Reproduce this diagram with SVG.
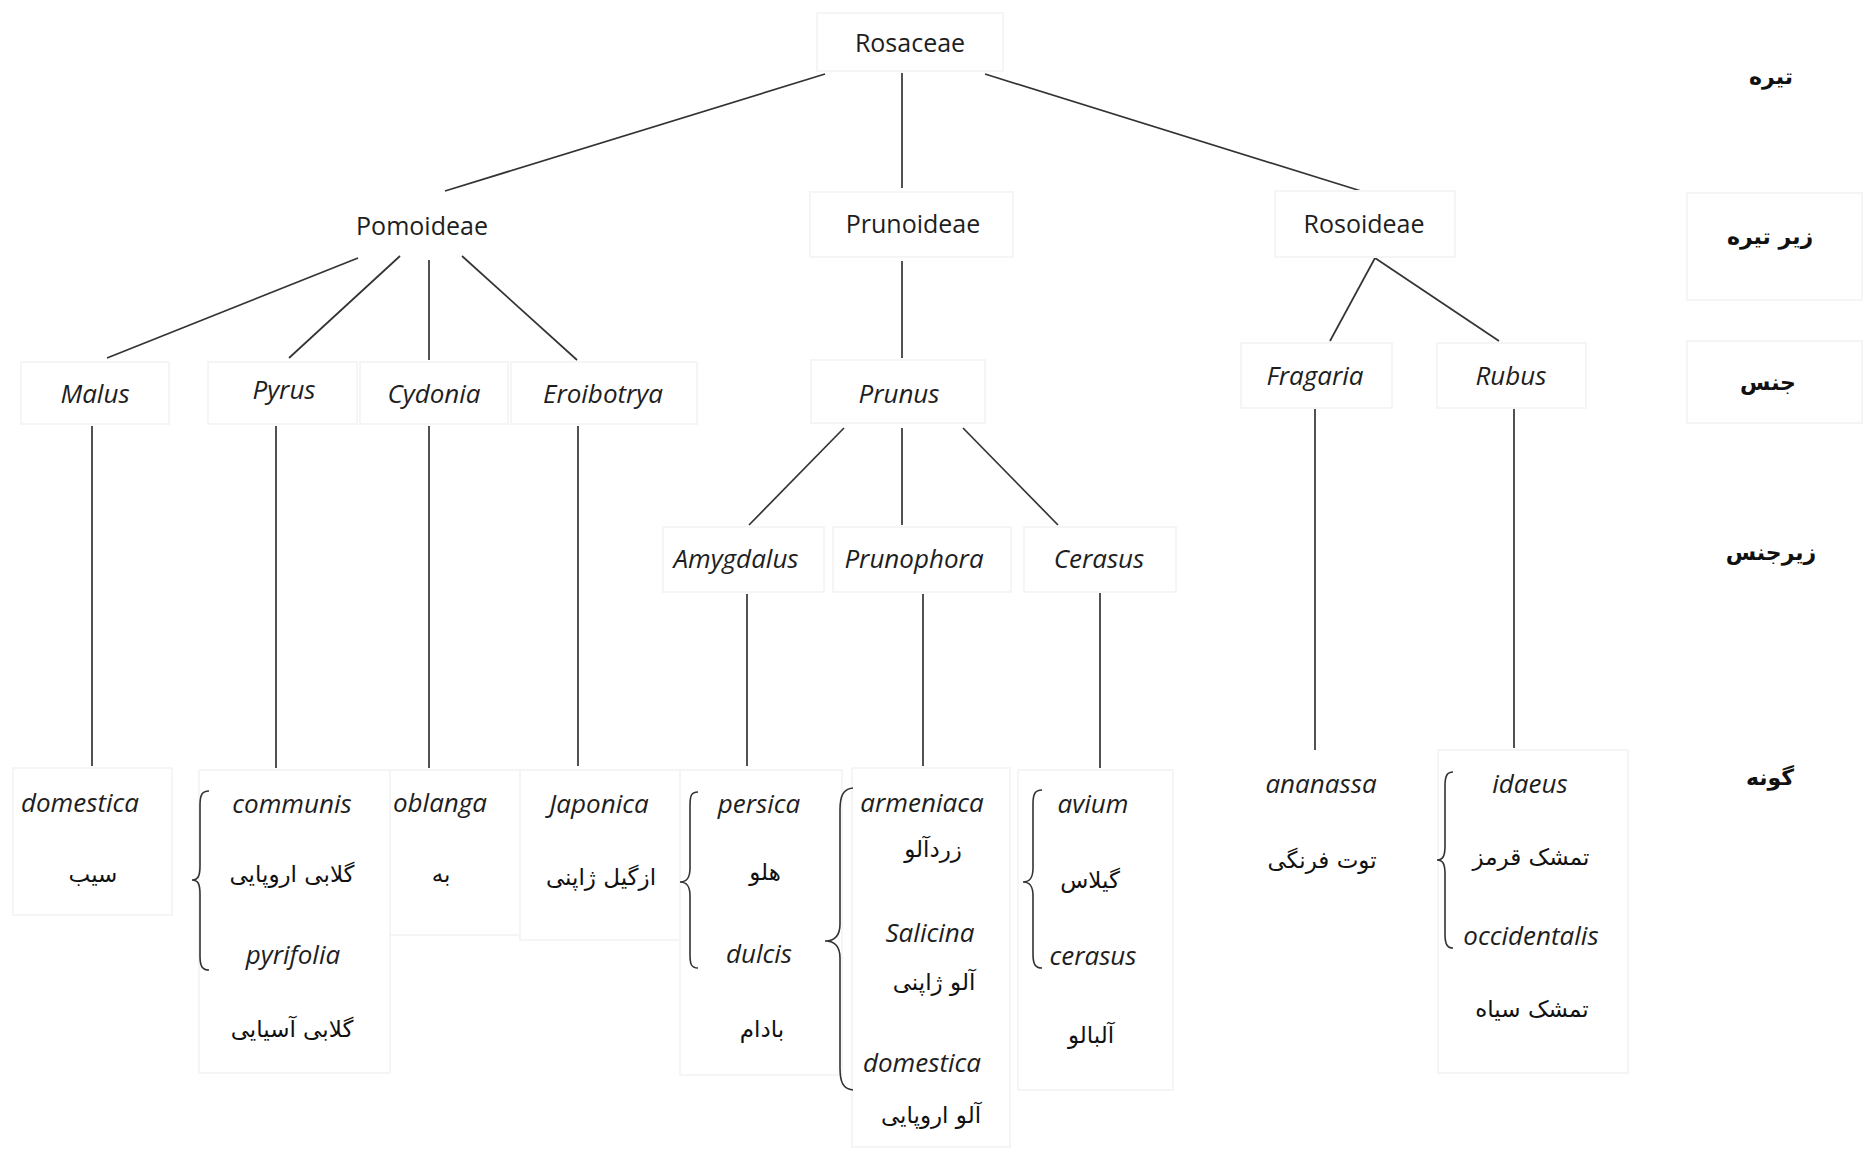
<svg xmlns="http://www.w3.org/2000/svg" width="1865" height="1152" viewBox="0 0 1865 1152">
<style>
.bg{fill:#ffffff}
.box{fill:none;stroke:#f5f5f5;stroke-width:2}
.ln{stroke:#333333;stroke-width:1.7;fill:none}
.br{stroke:#333333;stroke-width:1.6;fill:none}
.t{font-family:"Open Sans","Liberation Sans",sans-serif;font-size:25px;fill:#1e1e1e;text-anchor:middle}
.i{font-family:"Open Sans","Liberation Sans",sans-serif;font-size:26px;font-style:italic;fill:#1e1e1e;text-anchor:middle}
.fa{font-family:"DejaVu Sans",sans-serif;font-size:23px;fill:#111111;text-anchor:middle}
.lb{font-family:"DejaVu Sans",sans-serif;font-size:22px;font-weight:bold;fill:#111111;text-anchor:middle}
</style>
<rect class="bg" x="0" y="0" width="1865" height="1152"/>
<g id="connectors">
<line class="ln" x1="825" y1="74" x2="445" y2="191"/>
<line class="ln" x1="902" y1="73" x2="902" y2="188"/>
<line class="ln" x1="985" y1="74" x2="1361" y2="191"/>
<line class="ln" x1="358" y1="258" x2="107" y2="358"/>
<line class="ln" x1="400" y1="256" x2="289" y2="358"/>
<line class="ln" x1="429" y1="260" x2="429" y2="360"/>
<line class="ln" x1="462" y1="256" x2="577" y2="360"/>
<line class="ln" x1="902" y1="261" x2="902" y2="358"/>
<line class="ln" x1="1375" y1="258" x2="1330" y2="341"/>
<line class="ln" x1="1375" y1="258" x2="1499" y2="341"/>
<line class="ln" x1="92" y1="426" x2="92" y2="766"/>
<line class="ln" x1="276" y1="426" x2="276" y2="768"/>
<line class="ln" x1="429" y1="426" x2="429" y2="768"/>
<line class="ln" x1="578" y1="426" x2="578" y2="766"/>
<line class="ln" x1="844" y1="428" x2="749" y2="525"/>
<line class="ln" x1="902" y1="428" x2="902" y2="525"/>
<line class="ln" x1="963" y1="428" x2="1058" y2="525"/>
<line class="ln" x1="747" y1="594" x2="747" y2="766"/>
<line class="ln" x1="923" y1="594" x2="923" y2="766"/>
<line class="ln" x1="1100" y1="592" x2="1100" y2="768"/>
<line class="ln" x1="1315" y1="409" x2="1315" y2="750"/>
<line class="ln" x1="1514" y1="407" x2="1514" y2="748"/>
</g>
<g id="rank-labels">
<text class="lb" x="1771" y="84" direction="rtl">تیره</text>
<rect class="box" x="1687" y="193" width="175" height="107"/>
<text class="lb" x="1770" y="244" direction="rtl">زیر تیره</text>
<rect class="box" x="1687" y="341" width="175" height="82"/>
<text class="lb" x="1768" y="390" direction="rtl">جنس</text>
<text class="lb" x="1771" y="560" direction="rtl">زیرجنس</text>
<text class="lb" x="1770" y="785" direction="rtl">گونه</text>
</g>
<g id="n-rosaceae"><rect class="box" x="817" y="13" width="186" height="58"/><text class="t" x="910" y="52">Rosaceae</text></g>
<g id="n-pomoideae"><text class="t" x="422" y="235">Pomoideae</text></g>
<g id="n-prunoideae"><rect class="box" x="810" y="192" width="203" height="65"/><text class="t" x="913" y="233">Prunoideae</text></g>
<g id="n-rosoideae"><rect class="box" x="1275" y="191" width="180" height="66"/><text class="t" x="1364" y="233">Rosoideae</text></g>
<g id="n-malus"><rect class="box" x="21" y="362" width="148" height="62"/><text class="i" x="95" y="403">Malus</text></g>
<g id="n-pyrus"><rect class="box" x="208" y="362" width="149" height="62"/><text class="i" x="284" y="399">Pyrus</text></g>
<g id="n-cydonia"><rect class="box" x="360" y="362" width="148" height="62"/><text class="i" x="434" y="403">Cydonia</text></g>
<g id="n-eroibotrya"><rect class="box" x="511" y="362" width="186" height="62"/><text class="i" x="603" y="403">Eroibotrya</text></g>
<g id="n-prunus"><rect class="box" x="811" y="360" width="174" height="63"/><text class="i" x="899" y="403">Prunus</text></g>
<g id="n-fragaria"><rect class="box" x="1241" y="343" width="151" height="65"/><text class="i" x="1315" y="385">Fragaria</text></g>
<g id="n-rubus"><rect class="box" x="1437" y="343" width="149" height="65"/><text class="i" x="1511" y="385">Rubus</text></g>
<g id="n-amygdalus"><rect class="box" x="663" y="527" width="161" height="65"/><text class="i" x="736" y="568">Amygdalus</text></g>
<g id="n-prunophora"><rect class="box" x="833" y="527" width="178" height="65"/><text class="i" x="914" y="568">Prunophora</text></g>
<g id="n-cerasus"><rect class="box" x="1024" y="527" width="152" height="65"/><text class="i" x="1099" y="568">Cerasus</text></g>
<g id="s-malus"><rect class="box" x="13" y="768" width="159" height="147"/>
<text class="i" x="80" y="812">domestica</text>
<text class="fa" x="93" y="882" direction="rtl">سیب</text></g>
<g id="s-pyrus"><rect class="box" x="199" y="770" width="191" height="303"/>
<path class="br" d="M209,791 C202,791 200,795 200,805 L200,866 C200,876 198,880 192,880 C198,880 200,884 200,894 L200,956 C200,966 202,970 209,970"/>
<text class="i" x="292" y="813">communis</text>
<text class="fa" x="292" y="882" direction="rtl">گلابی اروپایی</text>
<text class="i" x="293" y="964">pyrifolia</text>
<text class="fa" x="292" y="1037" direction="rtl">گلابی آسیایی</text></g>
<g id="s-cydonia"><rect class="box" x="390" y="770" width="130" height="165"/>
<text class="i" x="440" y="812">oblanga</text>
<text class="fa" x="441" y="882" direction="rtl">به</text></g>
<g id="s-eroibotrya"><rect class="box" x="520" y="770" width="160" height="170"/>
<text class="i" x="599" y="813">Japonica</text>
<text class="fa" x="601" y="885" direction="rtl">ازگیل ژاپنی</text></g>
<g id="s-amygdalus"><rect class="box" x="680" y="770" width="162" height="305"/>
<path class="br" d="M698,792 C691,792 690,796 690,806 L690,868 C690,878 687,882 680,882 C687,882 690,886 690,896 L690,954 C690,964 691,968 698,968"/>
<text class="i" x="759" y="813">persica</text>
<text class="fa" x="765" y="880" direction="rtl">هلو</text>
<text class="i" x="759" y="963">dulcis</text>
<text class="fa" x="762" y="1037" direction="rtl">بادام</text></g>
<g id="s-prunophora"><rect class="box" x="852" y="768" width="158" height="379"/>
<path class="br" d="M853,788 C843,789 840,796 840,810 L840,924 C840,936 834,941 825,941 C834,941 840,946 840,958 L840,1068 C840,1082 843,1089 853,1090"/>
<text class="i" x="922" y="812">armeniaca</text>
<text class="fa" x="933" y="857" direction="rtl">زردآلو</text>
<text class="i" x="930" y="942">Salicina</text>
<text class="fa" x="934" y="990" direction="rtl">آلو ژاپنی</text>
<text class="i" x="922" y="1072">domestica</text>
<text class="fa" x="931" y="1123" direction="rtl">آلو اروپایی</text></g>
<g id="s-cerasus"><rect class="box" x="1018" y="770" width="155" height="320"/>
<path class="br" d="M1042,790 C1035,790 1033,794 1033,804 L1033,868 C1033,878 1030,882 1023,882 C1030,882 1033,886 1033,896 L1033,954 C1033,964 1035,968 1042,968"/>
<text class="i" x="1093" y="813">avium</text>
<text class="fa" x="1090" y="888" direction="rtl">گیلاس</text>
<text class="i" x="1093" y="965">cerasus</text>
<text class="fa" x="1091" y="1043" direction="rtl">آلبالو</text></g>
<g id="s-fragaria">
<text class="i" x="1321" y="793">ananassa</text>
<text class="fa" x="1322" y="868" direction="rtl">توت فرنگی</text></g>
<g id="s-rubus"><rect class="box" x="1438" y="750" width="190" height="323"/>
<path class="br" d="M1453,772 C1447,772 1445,776 1445,786 L1445,846 C1445,856 1443,860 1437,860 C1443,860 1445,864 1445,874 L1445,934 C1445,944 1447,948 1453,948"/>
<text class="i" x="1530" y="793">idaeus</text>
<text class="fa" x="1531" y="865" direction="rtl">تمشک قرمز</text>
<text class="i" x="1531" y="945">occidentalis</text>
<text class="fa" x="1532" y="1017" direction="rtl">تمشک سیاه</text></g>
</svg>
